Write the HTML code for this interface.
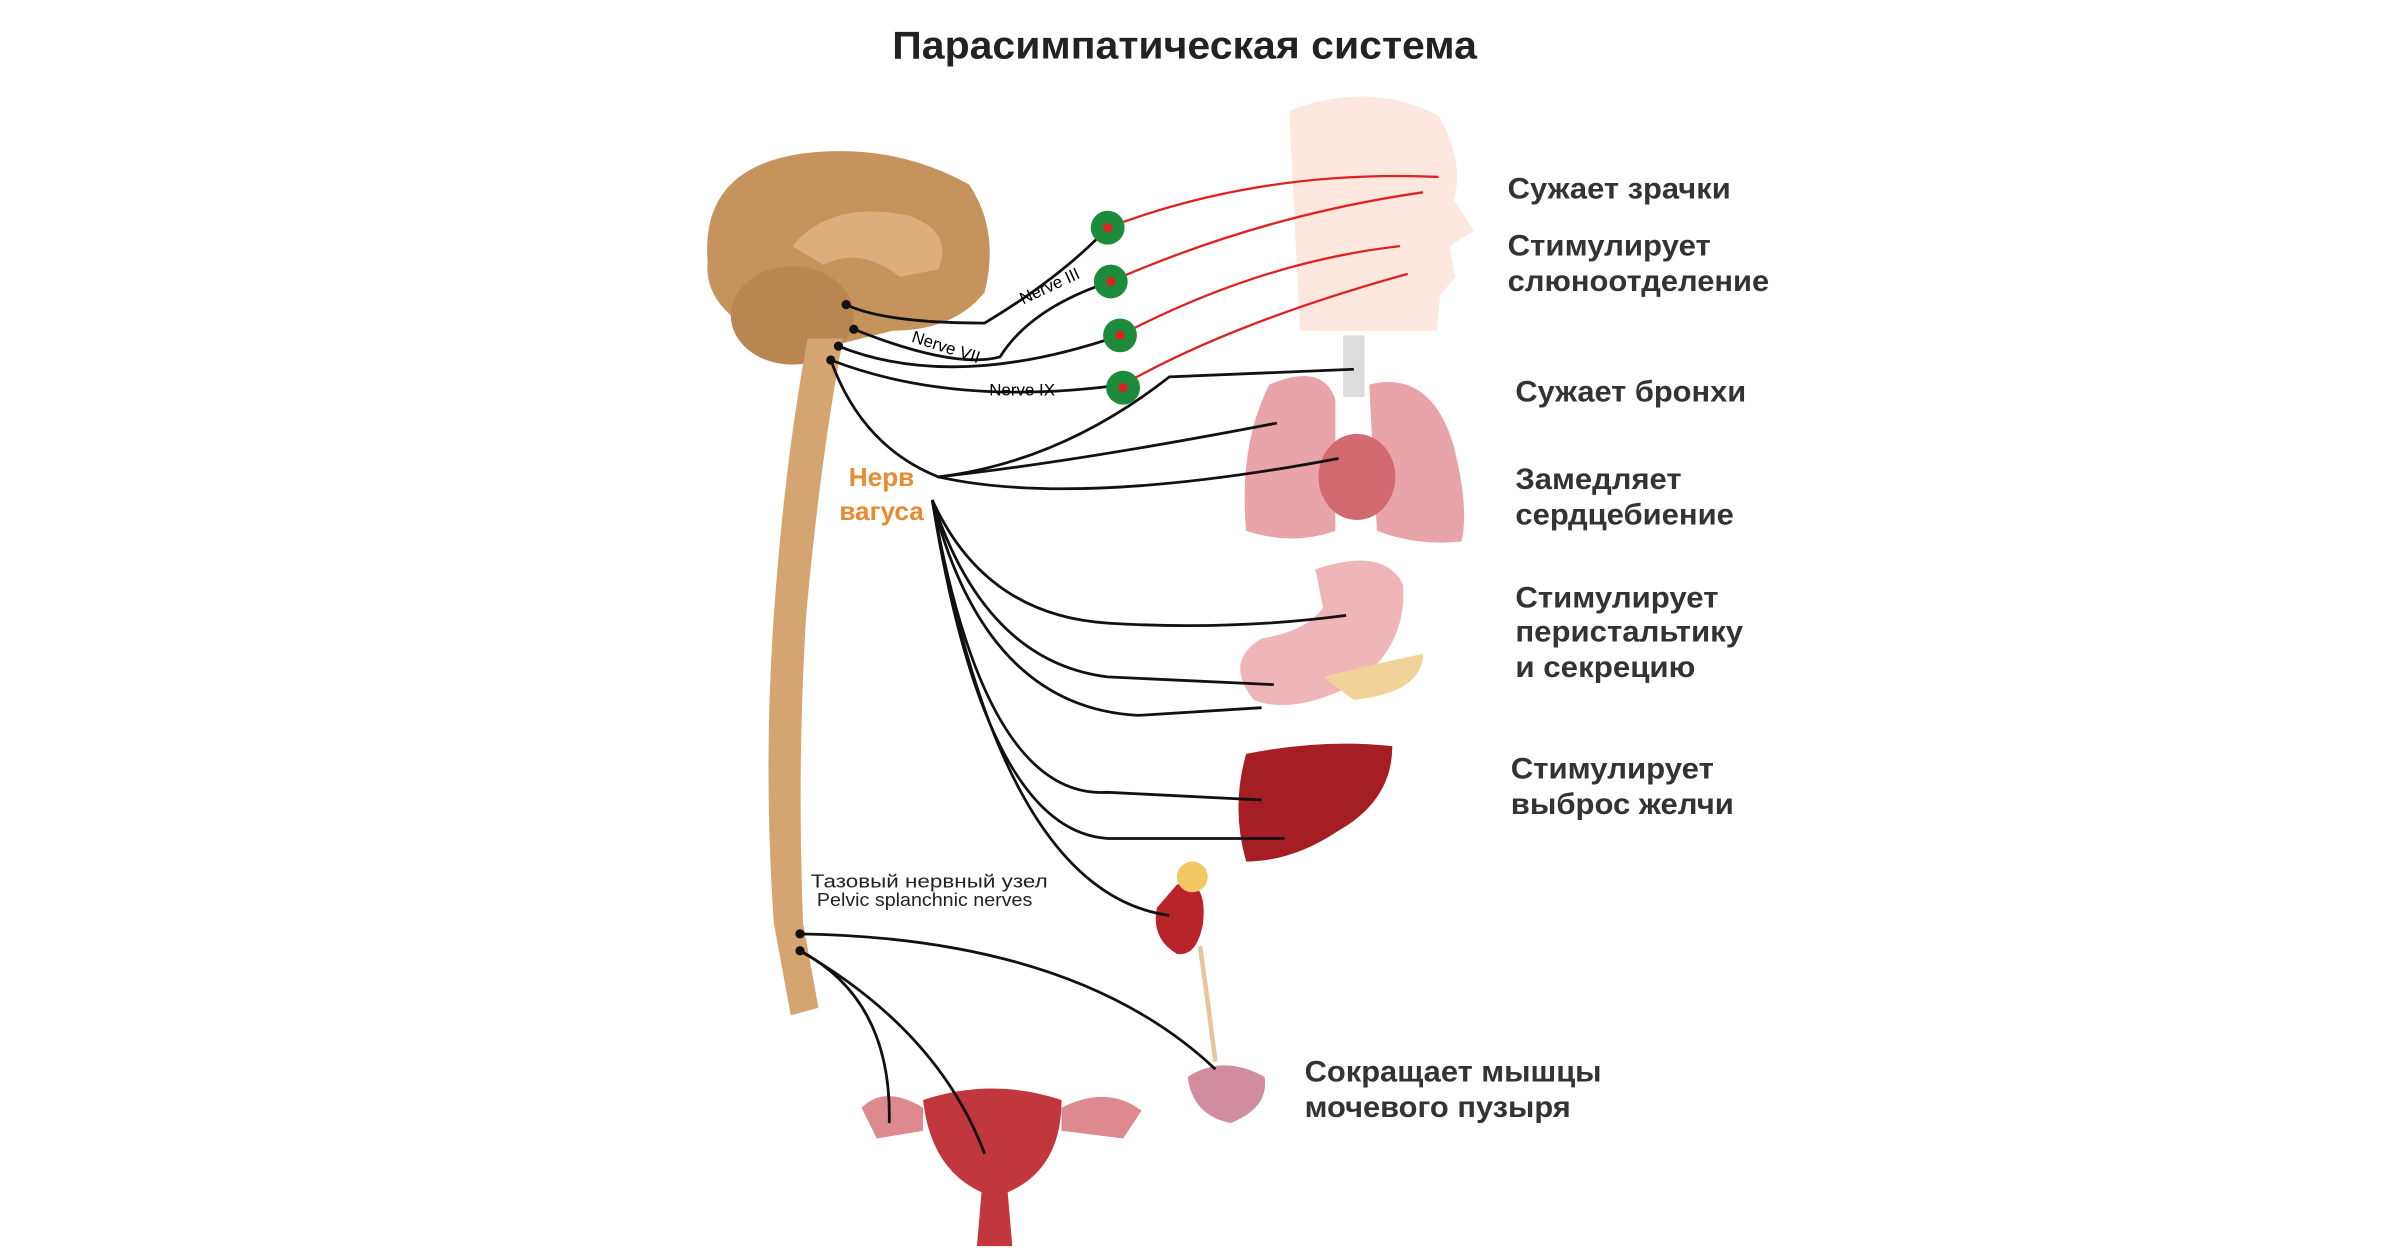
<!DOCTYPE html>
<html><head><meta charset="utf-8"><style>
html,body{margin:0;padding:0;background:#fff;}
svg{display:block}
text{font-family:"Liberation Sans",sans-serif;}
</style></head><body>
<svg width="2400" height="1260" viewBox="0 0 1560 819" preserveAspectRatio="none" xmlns="http://www.w3.org/2000/svg">
<rect width="1560" height="819" fill="#fff"/>
<text x="770" y="38" text-anchor="middle" font-size="25" font-weight="bold" fill="#222" textLength="380" lengthAdjust="spacingAndGlyphs">Парасимпатическая система</text>
<!-- face -->
<path d="M838 72 Q890 52 935 75 Q952 105 945 130 L958 150 L942 160 L946 180 L936 192 L934 215 L845 215 Z" fill="#fde3d8" opacity="0.85"/>
<!-- brain -->
<path d="M460 170 Q455 110 520 100 Q580 92 630 120 Q650 150 640 190 Q620 215 580 215 L540 225 Q500 225 475 205 Q458 190 460 170 Z" fill="#c7935d"/>
<ellipse cx="515" cy="205" rx="40" ry="32" fill="#b98652"/>
<path d="M515 160 Q540 130 590 140 Q620 150 610 175 L585 180 Q560 160 535 172 Z" fill="#dcae7c"/>
<!-- spinal cord -->
<path d="M525 220 L548 220 Q533 300 524 400 Q518 500 522 600 L532 655 L514 660 L503 600 Q496 500 503 400 Q510 300 525 220 Z" fill="#d4a570"/>
<!-- lungs/heart -->
<path d="M825 250 Q860 235 868 260 L868 345 Q840 355 810 345 Q805 290 825 250 Z" fill="#e8a4a8"/>
<path d="M890 250 Q930 240 945 290 Q955 330 950 352 Q920 355 895 345 Z" fill="#e8a4a8"/>
<ellipse cx="882" cy="310" rx="25" ry="28" fill="#d36a70"/>
<rect x="873" y="218" width="14" height="40" fill="#ddd"/>
<!-- stomach -->
<path d="M855 370 Q900 355 912 380 Q915 420 880 445 Q840 465 815 455 Q795 430 820 415 Q850 410 860 395 Z" fill="#f0b5b8"/>
<path d="M860 440 Q900 430 925 425 Q925 450 880 455 Z" fill="#f1d39a"/>
<!-- liver -->
<path d="M810 490 Q860 480 905 485 Q905 520 870 540 Q840 560 810 560 Q800 525 810 490 Z" fill="#a51e24"/>
<!-- kidney -->
<path d="M765 575 Q785 570 782 600 Q778 622 765 620 Q748 610 752 590 Z" fill="#b9242a"/>
<circle cx="775" cy="570" r="10" fill="#f3c764"/>
<path d="M780 615 Q785 650 790 690" stroke="#e9c49a" stroke-width="3" fill="none"/>
<!-- bladder -->
<path d="M772 700 Q795 685 822 700 Q825 720 800 730 Q775 725 772 700 Z" fill="#d28ca0"/>
<!-- uterus -->
<path d="M600 715 Q645 700 690 715 Q690 760 655 775 L658 810 L635 810 L638 775 Q605 760 600 715 Z" fill="#c2363e"/>
<path d="M560 720 Q575 705 600 720 L600 735 L570 740 Z" fill="#dd8a8f"/>
<path d="M690 720 Q720 705 742 722 L730 740 L690 735 Z" fill="#dd8a8f"/>
<!-- red nerves -->
<g stroke="#d22" stroke-width="1.5" fill="none">
<path d="M720 148 Q820 110 935 115"/>
<path d="M722 183 Q820 140 925 125"/>
<path d="M728 218 Q820 170 910 160"/>
<path d="M730 250 Q800 210 915 178"/>
</g>
<!-- black nerves -->
<g stroke="#111" stroke-width="1.8" fill="none">
<path d="M550 198 Q575 210 640 210 Q690 180 720 148"/>
<path d="M555 214 Q620 240 650 232 Q670 200 722 183"/>
<path d="M545 225 Q620 255 728 218"/>
<path d="M540 234 Q620 265 730 250"/>
<path d="M540 234 Q560 290 610 310 Q690 300 760 245 L880 240"/>
<path d="M610 310 Q700 300 830 275"/>
<path d="M610 310 Q700 330 870 298"/>
<path d="M606 325 Q640 400 720 405 Q800 410 875 400"/>
<path d="M606 325 Q640 430 720 440 L828 445"/>
<path d="M606 325 Q640 460 740 465 L820 460"/>
<path d="M606 325 Q640 520 720 515 L820 520"/>
<path d="M606 325 Q640 540 720 545 L835 545"/>
<path d="M606 325 Q650 580 760 595"/>
<path d="M520 607 Q700 610 790 695"/>
<path d="M520 618 Q580 650 578 730"/>
<path d="M520 618 Q610 670 640 750"/>
</g>
<g fill="#111"><circle cx="550" cy="198" r="3"/><circle cx="555" cy="214" r="3"/><circle cx="545" cy="225" r="3"/><circle cx="540" cy="234" r="3"/><circle cx="520" cy="607" r="3"/><circle cx="520" cy="618" r="3"/></g>
<g fill="#1c8c3c"><circle cx="720" cy="148" r="11"/><circle cx="722" cy="183" r="11"/><circle cx="728" cy="218" r="11"/><circle cx="730" cy="252" r="11"/></g>
<g fill="#d22"><circle cx="720" cy="148" r="3"/><circle cx="722" cy="183" r="3"/><circle cx="728" cy="218" r="3"/><circle cx="730" cy="252" r="3"/></g>
<text x="665" y="198" font-size="11" transform="rotate(-25 665 198)">Nerve III</text>
<text x="592" y="222" font-size="11" transform="rotate(18 592 222)">Nerve VII</text>
<text x="643" y="257" font-size="11">Nerve IX</text>
<text x="573" y="316" text-anchor="middle" font-size="17" font-weight="bold" fill="#e98a2e">Нерв</text>
<text x="573" y="338" text-anchor="middle" font-size="17" font-weight="bold" fill="#e98a2e">вагуса</text>
<text x="527" y="577" font-size="12" fill="#222" textLength="154" lengthAdjust="spacingAndGlyphs">Тазовый нервный узел</text>
<text x="531" y="589" font-size="12" fill="#222" textLength="140" lengthAdjust="spacingAndGlyphs">Pelvic splanchnic nerves</text>
<g font-size="19" font-weight="bold" fill="#333">
<text x="980" y="129" textLength="145" lengthAdjust="spacingAndGlyphs">Сужает зрачки</text>
<text x="980" y="166" textLength="132" lengthAdjust="spacingAndGlyphs">Стимулирует</text>
<text x="980" y="189" textLength="170" lengthAdjust="spacingAndGlyphs">слюноотделение</text>
<text x="985" y="261" textLength="150" lengthAdjust="spacingAndGlyphs">Сужает бронхи</text>
<text x="985" y="318" textLength="108" lengthAdjust="spacingAndGlyphs">Замедляет</text>
<text x="985" y="341" textLength="142" lengthAdjust="spacingAndGlyphs">сердцебиение</text>
<text x="985" y="395" textLength="132" lengthAdjust="spacingAndGlyphs">Стимулирует</text>
<text x="985" y="417" textLength="148" lengthAdjust="spacingAndGlyphs">перистальтику</text>
<text x="985" y="440" textLength="117" lengthAdjust="spacingAndGlyphs">и секрецию</text>
<text x="982" y="506" textLength="132" lengthAdjust="spacingAndGlyphs">Стимулирует</text>
<text x="982" y="529" textLength="145" lengthAdjust="spacingAndGlyphs">выброс желчи</text>
<text x="848" y="703" textLength="193" lengthAdjust="spacingAndGlyphs">Сокращает мышцы</text>
<text x="848" y="726" textLength="173" lengthAdjust="spacingAndGlyphs">мочевого пузыря</text>
</g>
</svg>
</body></html>
